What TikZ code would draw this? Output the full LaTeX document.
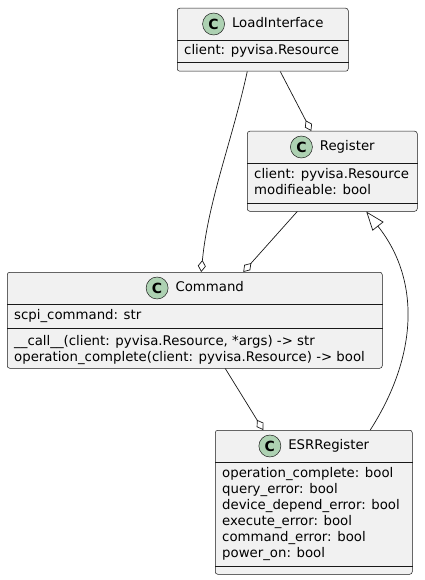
\documentclass[tikz,border=0pt]{standalone}
\usepackage{fontspec}
\setmainfont{DejaVu Sans}
\usepackage{tikz}
\usetikzlibrary{arrows.meta,positioning}
\definecolor{umlfill}{HTML}{F1F1F1}
\definecolor{umlline}{HTML}{181818}
\definecolor{spotgreen}{HTML}{ADD1B2}
\tikzset{
  classbox/.style={draw=umlline, fill=umlfill, line width=0.5pt, rounded corners=2.5pt, anchor=north west, inner sep=0pt},
  sepline/.style={draw=umlline, line width=0.5pt},
  ctitle/.style={inner sep=0pt, font=\fontsize{13.3}{16}\selectfont, text height=10pt, text depth=3pt},
  member/.style={inner sep=0pt, anchor=west, font=\fontsize{13.3}{16}\selectfont, text height=10pt, text depth=3pt},
  spot/.style={circle, draw=umlline, fill=spotgreen, line width=0.5pt, minimum size=22pt, inner sep=0pt, font=\fontsize{14}{14}\selectfont\bfseries},
  assoc/.style={draw=umlline, line width=0.7pt},
  aggr/.style={assoc, -{Diamond[length=12pt,width=8pt,fill=white]}},
  inherit/.style={assoc, -{Triangle[length=19pt,width=14pt,fill=white]}},
}
\begin{document}
\begin{tikzpicture}[x=1pt,y=-1pt]
\useasboundingbox (0,0) rectangle (424,580);
%%%CLASSES
\node[classbox, minimum width=171pt, minimum height=63pt] (load) at (177,8) {};
\node[classbox, minimum width=170pt, minimum height=80pt] (reg) at (247,131) {};
\node[classbox, minimum width=375pt, minimum height=96pt] (cmd) at (7,272) {};
\node[classbox, minimum width=197pt, minimum height=144pt] (esr) at (215,430) {};
%%%COMPARTMENTS
\draw[sepline] ([yshift=-32pt]load.north west) -- ([yshift=-32pt]load.north east);
\draw[sepline] ([yshift=-54pt]load.north west) -- ([yshift=-54pt]load.north east);
\draw[sepline] ([yshift=-32pt]reg.north west) -- ([yshift=-32pt]reg.north east);
\draw[sepline] ([yshift=-72pt]reg.north west) -- ([yshift=-72pt]reg.north east);
\draw[sepline] ([yshift=-32pt]cmd.north west) -- ([yshift=-32pt]cmd.north east);
\draw[sepline] ([yshift=-56pt]cmd.north west) -- ([yshift=-56pt]cmd.north east);
\draw[sepline] ([yshift=-32pt]esr.north west) -- ([yshift=-32pt]esr.north east);
\draw[sepline] ([yshift=-136pt]esr.north west) -- ([yshift=-136pt]esr.north east);
%%%TITLES
\node[ctitle] (loadT) at ([xshift=15pt,yshift=-16pt]load.north) {LoadInterface};
\node[spot, left=7pt of loadT] (loadC) {C};
\node[ctitle] (regT) at ([xshift=15pt,yshift=-16pt]reg.north) {Register};
\node[spot, left=7pt of regT] (regC) {C};
\node[ctitle] (cmdT) at ([xshift=15pt,yshift=-16pt]cmd.north) {Command};
\node[spot, left=7pt of cmdT] (cmdC) {C};
\node[ctitle] (esrT) at ([xshift=15pt,yshift=-16pt]esr.north) {ESRRegister};
\node[spot, left=7pt of esrT] (esrC) {C};
%%%MEMBERS
\node[member] (loadA) at ([xshift=7pt,yshift=-43pt]load.north west) {client: pyvisa.Resource};
\node[member] (regA) at ([xshift=7pt,yshift=-44pt]reg.north west) {client: pyvisa.Resource};
\node[member] (regB) at ([xshift=7pt,yshift=-60pt]reg.north west) {modifieable: bool};
\node[member] (cmdA) at ([xshift=7pt,yshift=-44pt]cmd.north west) {scpi\_command: str};
\node[member] (cmdM) at ([xshift=7pt,yshift=-70pt]cmd.north west) {\_\_call\_\_(client: pyvisa.Resource, *args) -> str};
\node[member] (cmdN) at ([xshift=7pt,yshift=-86pt]cmd.north west) {operation\_complete(client: pyvisa.Resource) -> bool};
\node[member] (esrA) at ([xshift=7pt,yshift=-44pt]esr.north west) {operation\_complete: bool};
\node[member] (esrB) at ([xshift=7pt,yshift=-60pt]esr.north west) {query\_error: bool};
\node[member] (esrC2) at ([xshift=7pt,yshift=-76pt]esr.north west) {device\_depend\_error: bool};
\node[member] (esrD) at ([xshift=7pt,yshift=-92pt]esr.north west) {execute\_error: bool};
\node[member] (esrE) at ([xshift=7pt,yshift=-108pt]esr.north west) {command\_error: bool};
\node[member] (esrF) at ([xshift=7pt,yshift=-124pt]esr.north west) {power\_on: bool};
%%%RELATIONS
\draw[aggr] ([xshift=-15.5pt]load.south) .. controls +(-15,69) and +(7,-72) .. ([xshift=6.5pt]cmd.north);
\draw[aggr] ([xshift=17.5pt]load.south) -- ([xshift=-21pt]reg.north);
\draw[aggr] ([xshift=-35pt]reg.south) -- ([xshift=48.5pt]cmd.north);
\draw[aggr] ([xshift=30.5pt]cmd.south) -- ([xshift=-50.5pt]esr.north);
\draw[inherit] ([xshift=56.5pt]esr.north) .. controls +(48,-75) and +(54,68) .. ([xshift=34pt]reg.south);
\end{tikzpicture}
\end{document}
